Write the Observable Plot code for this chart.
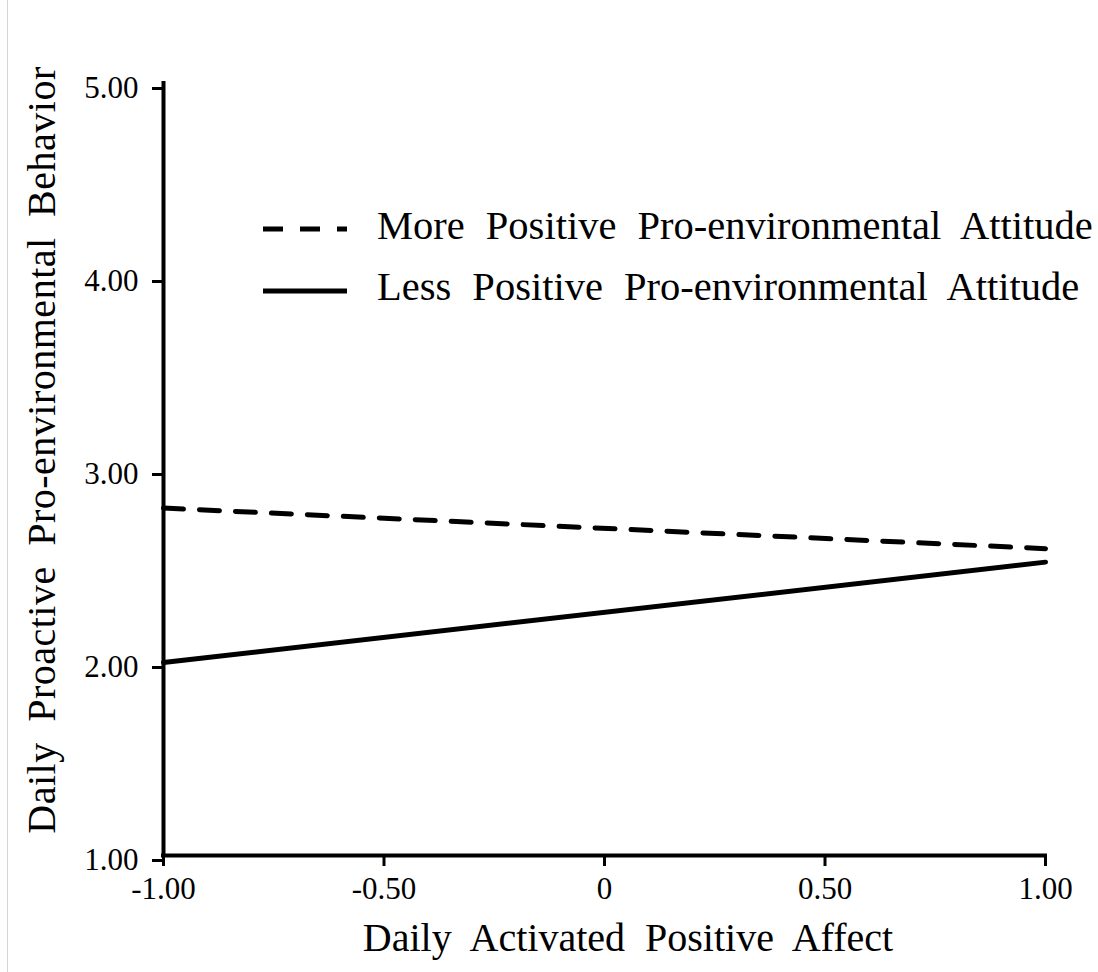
<!DOCTYPE html>
<html>
<head>
<meta charset="utf-8">
<script src="https://cdn.jsdelivr.net/npm/d3@7"></script>
<script src="https://cdn.jsdelivr.net/npm/@observablehq/plot@0.6"></script>
<style>
  html, body { margin: 0; padding: 0; background: #fff; }
  #wrap { position: relative; width: 1098px; height: 972px; overflow: hidden; }
  #edge { position: absolute; left: 7px; top: 0; width: 1px; height: 972px; background: #d4d4d4; }
</style>
</head>
<body>
<div id="wrap"><div id="edge"></div></div>
<script>
// ---- data ----
const xTicks = [-1.00, -0.50, 0, 0.50, 1.00];
const yTicks = [1.00, 2.00, 3.00, 4.00, 5.00];
const xValues = [-1.00, 1.00];
const moreValues = [2.80, 2.59];
const lessValues = [2.00, 2.52];
const seriesNames = ["More Positive Pro-environmental Attitude", "Less Positive Pro-environmental Attitude"];
const xTitle = "Daily Activated Positive Affect";
const yTitle = "Daily Proactive Pro-environmental Behavior";

const rows = [];
xValues.forEach((x, i) => rows.push({series: seriesNames[0], x, y: moreValues[i]}));
xValues.forEach((x, i) => rows.push({series: seriesNames[1], x, y: lessValues[i]}));

const fmt2 = d => (d < 0 ? "-" : "") + Math.abs(d).toFixed(2);
const fmtX = d => d === 0 ? "0" : fmt2(d);

const FONT = "'Liberation Serif', 'Times New Roman', serif";

const svg = Plot.plot({
  width: 1098,
  height: 972,
  marginLeft: 163,
  marginRight: 53,
  marginTop: 83,
  marginBottom: 117,
  x: {domain: [-1, 1]},
  y: {domain: [1, 5]},
  style: {fontFamily: FONT, fontSize: "31px", color: "#000", background: "#fff"},
  marks: [
    Plot.axisX(xTicks, {tickSize: 11, tickPadding: 10, tickFormat: fmtX, fontSize: 31, strokeWidth: 3, label: null}),
    Plot.axisY(yTicks, {tickSize: 11, tickPadding: 14, tickFormat: fmt2, fontSize: 31, strokeWidth: 3, label: null, dy: 5}),
    Plot.ruleX([xTicks[0]], {strokeWidth: 4, strokeLinecap: "square"}),
    Plot.ruleY([yTicks[0]], {strokeWidth: 4, strokeLinecap: "square"}),
    Plot.line(rows.filter(d => d.series === seriesNames[0]), {x: "x", y: "y", stroke: "#000", strokeWidth: 5, strokeDasharray: "20,16"}),
    Plot.line(rows.filter(d => d.series === seriesNames[1]), {x: "x", y: "y", stroke: "#000", strokeWidth: 5})
  ]
});

const s = d3.select(svg);
// axis titles
s.append("text")
  .attr("x", 628).attr("y", 951)
  .attr("text-anchor", "middle")
  .style("font-family", FONT).style("font-size", "40px").style("word-spacing", "10px")
  .attr("fill", "#000")
  .text(xTitle);
s.append("text")
  .attr("transform", "translate(55,450) rotate(-90)")
  .attr("text-anchor", "middle")
  .style("font-family", FONT).style("font-size", "40px").style("word-spacing", "10px").style("letter-spacing", "0.5px")
  .attr("fill", "#000")
  .text(yTitle);

// legend
const legendDash = ["20,17", null];
const legendLineY = [229, 291];
const legendTextY = [239, 300];
seriesNames.forEach((name, i) => {
  const ln = s.append("line")
    .attr("x1", 263).attr("x2", 347)
    .attr("y1", legendLineY[i]).attr("y2", legendLineY[i])
    .attr("stroke", "#000").attr("stroke-width", 5);
  if (legendDash[i]) ln.attr("stroke-dasharray", legendDash[i]);
  s.append("text")
    .attr("x", 377).attr("y", legendTextY[i])
    .attr("text-anchor", "start")
    .style("font-family", FONT).style("font-size", "40.5px").style("word-spacing", "11px")
    .attr("fill", "#000")
    .text(name);
});

document.getElementById("wrap").appendChild(svg);
</script>
</body>
</html>
